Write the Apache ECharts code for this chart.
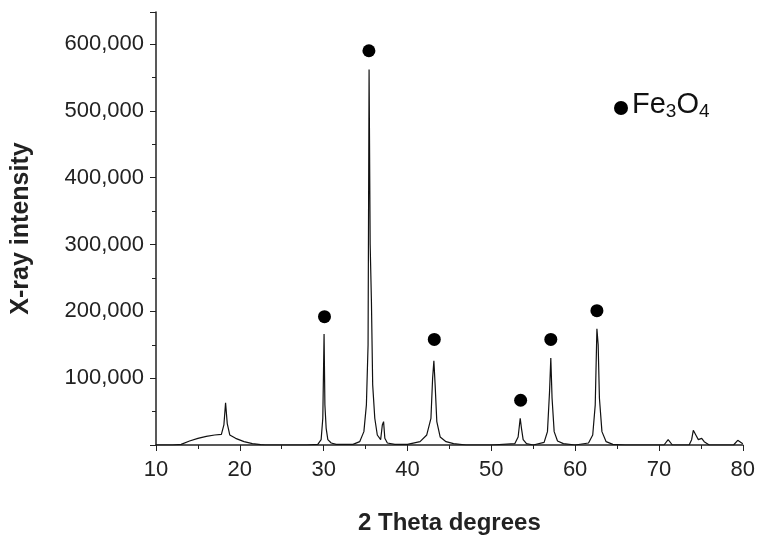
<!DOCTYPE html><html><head><meta charset="utf-8"><script src="https://cdn.jsdelivr.net/npm/echarts@6/dist/echarts.min.js"></script>
<style>body{margin:0}#c{width:758px;height:555px}</style></head><body><div id="c"></div><script>
const twoTheta=[10,12,13,14,15,16,17,17.8,18.1,18.3,18.5,18.8,19.5,20.5,21.5,22.5,23,25,25.7,25.9,26.1,28,29.3,29.7,29.9,30.05,30.15,30.3,30.5,30.9,31.5,33.5,34.3,34.8,35.1,35.3,35.42,35.55,35.7,35.85,36.1,36.4,36.8,37.0,37.15,37.3,37.6,38.5,40,41.5,42.3,42.8,43.0,43.15,43.3,43.5,43.9,44.6,45.5,47,50,52.8,53.2,53.45,53.6,53.8,54.2,55,56.3,56.7,56.95,57.1,57.25,57.5,57.9,58.6,60,61.6,62.1,62.4,62.6,62.75,62.9,63.2,63.7,64.5,66,70.6,71.1,71.6,73.6,73.9,74.1,74.4,74.7,75.1,75.4,76,78.5,78.9,79.4,80];
const intensity=[0,0,1000,6000,10000,13000,15000,16000,30000,63000,32000,15000,10000,5000,2000,500,0,0,0,2000,0,0,1000,8000,40000,166000,60000,25000,8000,3000,1000,1000,5000,20000,60000,150000,562000,300000,215000,90000,40000,15000,8000,30000,35000,10000,3000,1000,1000,5000,15000,40000,100000,126000,90000,35000,12000,5000,2000,0,0,2000,12000,40000,25000,8000,2000,0,4000,20000,80000,130000,70000,20000,6000,2000,0,3000,15000,60000,174000,150000,70000,20000,5000,1000,0,0,8000,0,0,8000,22000,15000,8000,10000,5000,0,0,0,7000,2000,0];
const markerX=[30.1,35.4,43.2,53.5,57.1,62.6];
const markerY=[192000,590000,158000,67000,158000,201000];
const yTicks=[100000,200000,300000,400000,500000,600000];
const ft='"Liberation Sans", Arial, sans-serif';
const chart=echarts.init(document.getElementById('c'));
chart.setOption({
 animation:false,
 grid:{left:156,right:12,top:12,bottom:110},
 xAxis:{type:'value',min:10,max:80,interval:10,name:'2 Theta degrees',nameLocation:'middle',nameGap:66,
  nameTextStyle:{fontFamily:ft,fontSize:24,fontWeight:'bold',color:'#222'},
  axisLine:{lineStyle:{color:'#222',width:1.5}},axisTick:{length:6,lineStyle:{color:'#222'}},
  minorTick:{show:true,splitNumber:2,length:4,lineStyle:{color:'#222'}},
  axisLabel:{fontFamily:ft,fontSize:22,color:'#222',margin:14},splitLine:{show:false}},
 yAxis:{type:'value',min:0,max:648000,interval:100000,name:'X-ray intensity',nameLocation:'middle',nameGap:122,
  nameTextStyle:{fontFamily:ft,fontSize:25,fontWeight:'bold',color:'#222'},
  axisLine:{show:true,lineStyle:{color:'#222',width:1.5}},axisTick:{length:6,lineStyle:{color:'#222'}},
  minorTick:{show:true,splitNumber:2,length:4,lineStyle:{color:'#222'}},
  axisLabel:{fontFamily:ft,fontSize:22,color:'#222',margin:12,
   formatter:v=>yTicks.includes(v)?v.toLocaleString('en-US'):''},splitLine:{show:false}},
 series:[
  {type:'line',data:twoTheta.map((x,i)=>[x,intensity[i]]),showSymbol:false,lineStyle:{color:'#111',width:1.2}},
  {type:'scatter',data:markerX.map((x,i)=>[x,markerY[i]]),symbolSize:13,itemStyle:{color:'#000',opacity:1}}
 ],
 graphic:[
  {type:'circle',shape:{cx:621,cy:108,r:7},style:{fill:'#000'}},
  {type:'text',left:632,top:90,style:{rich:{a:{fontFamily:ft,fontSize:29,fill:'#111'},s:{fontFamily:ft,fontSize:19,fill:'#111',padding:[14,0,0,0]}},text:'{a|Fe}{s|3}{a|O}{s|4}'}}
 ]
});
</script></body></html>
